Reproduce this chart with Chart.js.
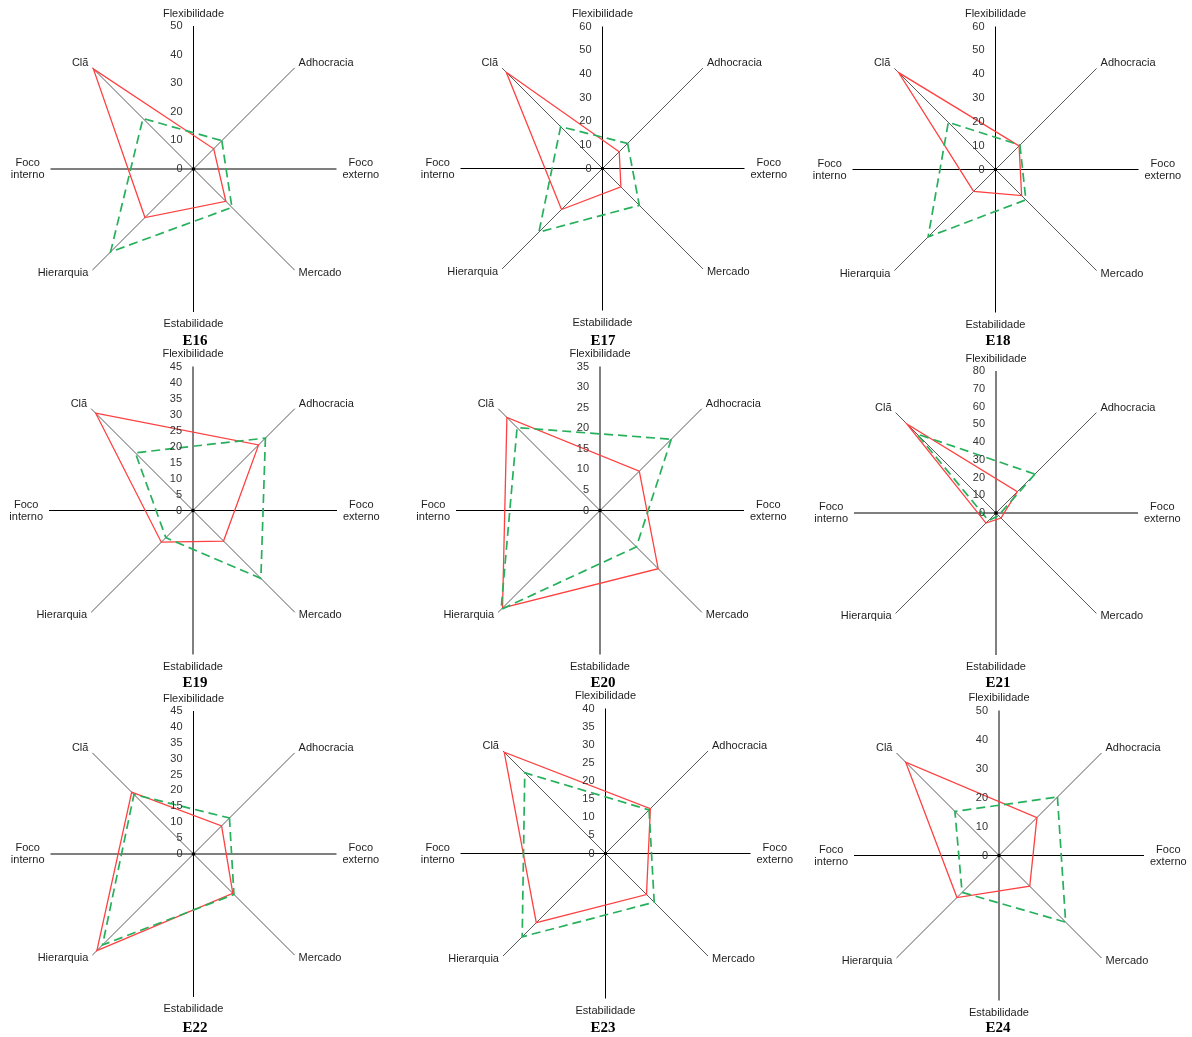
<!DOCTYPE html>
<html>
<head>
<meta charset="utf-8">
<script src="https://cdn.jsdelivr.net/npm/chart.js@4.4.1/dist/chart.umd.min.js"></script>
<style>
  html, body { margin: 0; padding: 0; background: #fff; }
  #page { position: relative; width: 1192px; height: 1037px; overflow: hidden; background: #fff; }
  #page canvas { position: absolute; }
  .cap {
    position: absolute;
    font: bold 15px "Liberation Serif", "Times New Roman", serif;
    color: #000;
    transform: translate(-50%, -50%);
    white-space: nowrap;
    line-height: 1;
  }
</style>
</head>
<body>
<div id="page"></div>
<script>
// Eixos do quadro de valores concorrentes (sentido horário a partir do topo)
const AXES = ['Flexibilidade', 'Adhocracia', ['Foco', 'externo'], 'Mercado',
              'Estabilidade', 'Hierarquia', ['Foco', 'interno'], 'Clã'];

const TITLES = ['E16', 'E17', 'E18', 'E19', 'E20', 'E21', 'E22', 'E23', 'E24'];

// Valores por empresa, na ordem: Clã, Adhocracia, Mercado, Hierarquia
const e16Solid  = [49.5, 10, 16, 24];
const e16Dashed = [25, 14, 19, 41];
const e17Solid  = [57.5, 10, 11, 24.5];
const e17Dashed = [25, 15, 22, 38];
const e18Solid  = [57.5, 14, 15.5, 13];
const e18Dashed = [28, 14.5, 18, 40];
const e19Solid  = [43, 29, 13.5, 14];
const e19Dashed = [25.5, 32, 30, 12];
const e20Solid  = [32, 13.5, 20, 33.5];
const e20Dashed = [28.5, 24.5, 12.5, 34];
const e21Solid  = [71, 17, 4, 8];
const e21Dashed = [63, 31, 2, 6];
const e22Solid  = [27.5, 12.5, 17.5, 43];
const e22Dashed = [26.5, 16, 18, 40.5];
const e23Solid  = [39.5, 17.5, 16, 27];
const e23Dashed = [31.5, 17, 19, 32.5];
const e24Solid  = [45.5, 18.5, 15, 20.5];
const e24Dashed = [21.5, 28.5, 32.5, 18];

const SOLID  = [e16Solid, e17Solid, e18Solid, e19Solid, e20Solid, e21Solid, e22Solid, e23Solid, e24Solid];
const DASHED = [e16Dashed, e17Dashed, e18Dashed, e19Dashed, e20Dashed, e21Dashed, e22Dashed, e23Dashed, e24Dashed];

// Escalas (rótulos de 0 até o máximo, com o passo indicado)
const TICK_MAX  = [50, 60, 60, 45, 35, 80, 45, 40, 50];
const TICK_STEP = [10, 10, 10, 5, 5, 10, 5, 5, 10];

// Disposição dos nove gráficos na página
const CENTERS = [
  [193.5, 169], [602.5, 168.5], [995.5, 169.5],
  [193, 510.5], [600, 510.5],   [996, 513],
  [193.5, 854], [605.5, 853.5], [999, 855.5]
];
const RADII = [143, 142, 143, 144, 144, 142, 143, 145, 145];
const CAPTION_X = [195, 603, 998];
const CAPTION_Y = [340, 682, 1027];

const RED = 'rgb(255, 64, 64)';
const GREEN = 'rgb(38, 176, 92)';
const TEXT_FONT = '11px "Liberation Sans", Arial, sans-serif';

// Só os eixos diagonais têm valores; os eixos cardeais ficam vazios
function toRadar(v) {
  return [null, v[1], null, v[2], null, v[3], null, v[0]];
}

// Ajuste de meio pixel no centro para que os eixos saiam nítidos
const centreNudge = {
  id: 'centreNudge',
  afterLayout(chart, args, opts) {
    const s = chart.scales.r;
    s.xCenter += opts.dx || 0;
    s.yCenter += opts.dy || 0;
  }
};

// Rótulos da escala, nomes dos eixos e ponto central
const axisText = {
  id: 'axisText',
  afterDraw(chart) {
    const s = chart.scales.r;
    const ctx = chart.ctx;
    const R = s.drawingArea;
    const cx = s.xCenter, cy = s.yCenter;
    ctx.save();
    ctx.font = TEXT_FONT;

    ctx.fillStyle = '#333';
    ctx.textAlign = 'right';
    ctx.textBaseline = 'middle';
    s.ticks.forEach(t => {
      ctx.fillText(t.label, cx - 11, cy - s.getDistanceFromCenterForValue(t.value));
    });

    ctx.fillStyle = '#1e1e1e';
    chart.data.labels.forEach((lab, i) => {
      const p = s.getPointPosition(i, R);
      if (Array.isArray(lab)) {
        const w = Math.max(...lab.map(l => ctx.measureText(l).width));
        const x0 = i === 2 ? p.x + 6 : p.x - 6 - w;
        ctx.textAlign = 'center';
        ctx.textBaseline = 'middle';
        lab.forEach((l, k) => ctx.fillText(l, x0 + w / 2, p.y - 6 + k * 12));
        return;
      }
      ctx.textBaseline = 'middle';
      if (i === 0) { ctx.textAlign = 'center'; ctx.fillText(lab, p.x, p.y - 12.5); }
      else if (i === 4) { ctx.textAlign = 'center'; ctx.fillText(lab, p.x, p.y + 12); }
      else if (i === 1) { ctx.textAlign = 'left'; ctx.fillText(lab, p.x + 4, p.y - 5); }
      else if (i === 3) { ctx.textAlign = 'left'; ctx.fillText(lab, p.x + 4, p.y + 3); }
      else if (i === 5) { ctx.textAlign = 'right'; ctx.fillText(lab, p.x - 4, p.y + 3); }
      else if (i === 7) { ctx.textAlign = 'right'; ctx.fillText(lab, p.x - 4, p.y - 5); }
    });

    ctx.fillStyle = '#000';
    ctx.beginPath();
    ctx.arc(cx, cy, 1.8, 0, Math.PI * 2);
    ctx.fill();
    ctx.restore();
  }
};

const page = document.getElementById('page');
const W = 420, H = 360, HALF_W = 210, HALF_H = 180;

TITLES.forEach((title, k) => {
  const [cx, cy] = CENTERS[k];
  const bx = Math.floor(cx), by = Math.floor(cy);
  const R = RADII[k];

  const canvas = document.createElement('canvas');
  canvas.width = W;
  canvas.height = H;
  canvas.style.left = (bx - HALF_W) + 'px';
  canvas.style.top = (by - HALF_H) + 'px';
  canvas.style.width = W + 'px';
  canvas.style.height = H + 'px';
  page.appendChild(canvas);

  new Chart(canvas, {
    type: 'radar',
    data: {
      labels: AXES,
      datasets: [
        {
          label: 'Série 1',
          data: toRadar(SOLID[k]),
          borderColor: RED,
          borderWidth: 1.3,
          fill: false,
          pointRadius: 0,
          spanGaps: true,
          order: 2
        },
        {
          label: 'Série 2',
          data: toRadar(DASHED[k]),
          borderColor: GREEN,
          borderWidth: 1.7,
          borderDash: [9, 5],
          fill: false,
          pointRadius: 0,
          spanGaps: true,
          order: 1
        }
      ]
    },
    options: {
      responsive: false,
      animation: false,
      devicePixelRatio: 1,
      events: [],
      layout: {
        padding: { left: HALF_W - R, right: HALF_W - R, top: HALF_H - R, bottom: HALF_H - R }
      },
      elements: { line: { tension: 0 } },
      plugins: {
        legend: { display: false },
        tooltip: { enabled: false },
        centreNudge: { dx: cx - bx, dy: cy - by }
      },
      scales: {
        r: {
          min: 0,
          max: TICK_MAX[k],
          ticks: { stepSize: TICK_STEP[k], display: false },
          grid: { display: false },
          pointLabels: { display: false },
          angleLines: {
            display: true,
            lineWidth: 1,
            color: c => (c.index % 2 === 0 ? '#000' : '#5a5a5a')
          }
        }
      }
    },
    plugins: [centreNudge, axisText]
  });

  const cap = document.createElement('div');
  cap.className = 'cap';
  cap.textContent = title;
  cap.style.left = CAPTION_X[k % 3] + 'px';
  cap.style.top = CAPTION_Y[Math.floor(k / 3)] + 'px';
  page.appendChild(cap);
});
</script>
</body>
</html>
